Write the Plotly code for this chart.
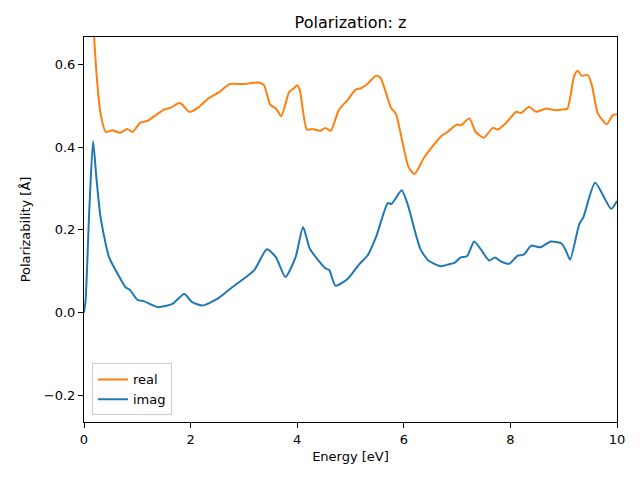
import plotly.graph_objects as go

# Real part (orange)
real_x = [0.0, 0.08, 0.14, 0.19, 0.25, 0.31, 0.41, 0.53, 0.68, 0.81, 0.91, 1.05, 1.19, 1.50, 1.63, 1.78, 1.84,
          1.97, 2.13, 2.35, 2.53, 2.73, 3.00, 3.28, 3.38, 3.49, 3.60, 3.70, 3.85, 3.93, 4.00, 4.05, 4.18,
          4.28, 4.43, 4.53, 4.63, 4.78, 4.95, 5.10, 5.20, 5.32, 5.48, 5.56, 5.67, 5.76, 5.85, 5.98, 6.09,
          6.20, 6.39, 6.70, 6.82, 7.00, 7.07, 7.23, 7.35, 7.50, 7.67, 7.76, 7.92, 8.11, 8.20, 8.35, 8.48,
          8.67, 8.82, 8.95, 9.07, 9.19, 9.26, 9.34, 9.45, 9.53, 9.64, 9.81, 9.92, 10.0]
real_y = [0.95, 0.90, 0.80, 0.667, 0.554, 0.482, 0.437, 0.441, 0.435, 0.444, 0.437, 0.459, 0.464, 0.491, 0.496,
          0.507, 0.504, 0.486, 0.495, 0.520, 0.533, 0.553, 0.553, 0.557, 0.550, 0.504, 0.494, 0.475, 0.534,
          0.542, 0.550, 0.538, 0.443, 0.444, 0.440, 0.447, 0.440, 0.490, 0.515, 0.540, 0.543, 0.554, 0.573,
          0.569, 0.530, 0.495, 0.482, 0.409, 0.352, 0.335, 0.377, 0.427, 0.437, 0.455, 0.453, 0.470, 0.437,
          0.423, 0.447, 0.443, 0.459, 0.486, 0.483, 0.498, 0.486, 0.494, 0.490, 0.491, 0.494, 0.570, 0.585,
          0.573, 0.575, 0.550, 0.482, 0.456, 0.478, 0.480]

# Imaginary part (blue)
imag_x = [0.0, 0.03, 0.10, 0.17, 0.23, 0.31, 0.47, 0.63, 0.78, 0.86, 1.00, 1.13, 1.39, 1.66, 1.88, 2.03,
          2.22, 2.50, 2.78, 3.19, 3.43, 3.60, 3.78, 3.97, 4.11, 4.24, 4.53, 4.60, 4.72, 4.95, 5.17, 5.32,
          5.48, 5.70, 5.77, 5.96, 6.07, 6.31, 6.46, 6.69, 6.82, 6.95, 7.06, 7.19, 7.32, 7.45, 7.60, 7.71,
          7.82, 7.98, 8.14, 8.25, 8.39, 8.56, 8.76, 8.96, 9.04, 9.12, 9.29, 9.37, 9.59, 9.89, 10.0]
imag_y = [0.0, 0.03, 0.25, 0.415, 0.33, 0.231, 0.134, 0.094, 0.061, 0.055, 0.031, 0.027, 0.013, 0.021, 0.045,
          0.025, 0.017, 0.033, 0.061, 0.102, 0.153, 0.134, 0.086, 0.134, 0.207, 0.154, 0.107, 0.103, 0.065,
          0.082, 0.118, 0.138, 0.183, 0.265, 0.263, 0.296, 0.263, 0.154, 0.126, 0.112, 0.116, 0.120, 0.133,
          0.137, 0.172, 0.152, 0.126, 0.133, 0.124, 0.118, 0.138, 0.140, 0.162, 0.158, 0.172, 0.167, 0.150,
          0.128, 0.213, 0.231, 0.314, 0.251, 0.270]

x_ticks = [0, 2, 4, 6, 8, 10]
y_ticks = [-0.2, 0.0, 0.2, 0.4, 0.6]

FONT = "DejaVu Sans"
W, H = 632, 472  # page body has an 8px default margin

fig = go.Figure()
fig.add_trace(go.Scatter(x=real_x, y=real_y, mode="lines", name="real",
                         line=dict(color="#ff7f0e", width=2, shape="spline", smoothing=0.6)))
fig.add_trace(go.Scatter(x=imag_x, y=imag_y, mode="lines", name="imag",
                         line=dict(color="#1f77b4", width=2, shape="spline", smoothing=0.6)))

axis_common = dict(showgrid=False, zeroline=False, showline=True, linecolor="black", linewidth=1,
                   mirror=True, ticks="outside", ticklen=5, tickwidth=1, tickcolor="black",
                   tickfont=dict(family=FONT, size=13, color="black"))

fig.update_layout(
    width=W, height=H,
    margin=dict(l=76, r=23, t=29, b=58),
    plot_bgcolor="white", paper_bgcolor="white",
    title=dict(text="Polarization: z", x=0.5, xref="paper", xanchor="center", y=1 - 14 / H, yanchor="middle",
               font=dict(family=FONT, size=16, color="black")),
    xaxis=dict(range=[0, 10], tickvals=x_ticks, ticktext=[str(v) for v in x_ticks],
               title=dict(text="Energy [eV]", font=dict(family=FONT, size=13, color="black"), standoff=6),
               **axis_common),
    yaxis=dict(range=[-0.265, 0.667], tickvals=y_ticks, tickformat=".1f",
               title=dict(text="Polarizability [Å]", font=dict(family=FONT, size=13, color="black"), standoff=10),
               **axis_common),
    showlegend=True,
    legend=dict(x=0.015, y=0.017, xanchor="left", yanchor="bottom", bgcolor="rgba(255,255,255,0.8)",
                bordercolor="#cccccc", borderwidth=1, font=dict(family=FONT, size=13, color="black"),
                tracegroupgap=0, itemwidth=30),
)

fig.write_html("out.html")
